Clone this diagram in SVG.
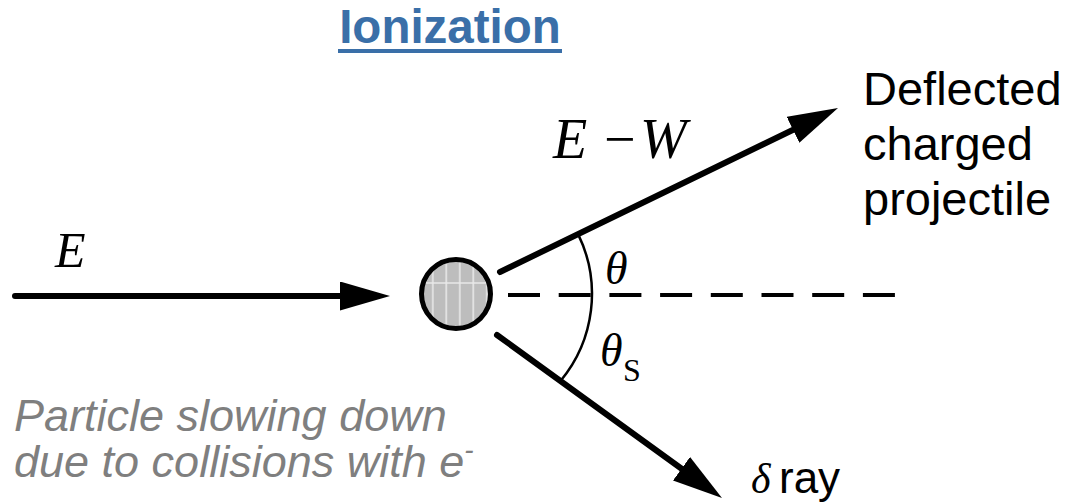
<svg xmlns="http://www.w3.org/2000/svg" width="1071" height="504" viewBox="0 0 1071 504">
  <style>
    .arrow { stroke: #000; stroke-width: 6; stroke-linecap: round; fill: none; }
    .math { font-family: "Liberation Serif", "DejaVu Serif", serif; font-style: italic; fill: #000; }
    .sans { font-family: "Liberation Sans", Arial, sans-serif; fill: #000; }
    .note { font-family: "Liberation Sans", Arial, sans-serif; font-style: italic; fill: #7f7f7f; font-size: 45px; }
  </style>
  <defs>
    <marker id="head" markerUnits="userSpaceOnUse" markerWidth="52" markerHeight="30" refX="30" refY="14.5" orient="auto">
      <path d="M0,0 L50,14.5 L0,29 z" fill="#000"/>
    </marker>
    <pattern id="hatch" patternUnits="userSpaceOnUse" x="426" y="0" width="13.5" height="504">
      <rect width="13.5" height="504" fill="#bdbdbd"/>
      <rect x="6" width="1.6" height="504" fill="#e8e8e8"/>
    </pattern>
  </defs>
  <rect width="1071" height="504" fill="#fff"/>

  <g id="title">
    <text x="450" y="43" text-anchor="middle" font-family="Liberation Sans, Arial, sans-serif" font-weight="bold" font-size="47.5" fill="#3a6fa8">Ionization</text>
    <line x1="338" y1="51" x2="562" y2="51" stroke="#3a6fa8" stroke-width="4"/>
  </g>

  <g id="connectors">
    <line class="arrow" x1="15" y1="296" x2="370" y2="296" marker-end="url(#head)"/>
    <line class="arrow" x1="500" y1="272" x2="820" y2="116.7" marker-end="url(#head)"/>
    <line class="arrow" x1="497" y1="335" x2="705.8" y2="486.3" marker-end="url(#head)"/>
    <line id="axis" x1="508" y1="295" x2="895" y2="295" stroke="#000" stroke-width="4" stroke-dasharray="32 18.7"/>
    <path id="angle-arc" d="M578.3,234.6 A136,136 0 0 1 560.5,381" fill="none" stroke="#000" stroke-width="2.5"/>
  </g>

  <g id="target">
    <circle cx="456" cy="294" r="34.5" fill="url(#hatch)" stroke="none"/>
    <line x1="424" y1="283" x2="488" y2="283" stroke="#e8e8e8" stroke-width="1.6"/>
    <circle cx="456" cy="294" r="34.5" fill="none" stroke="#000" stroke-width="5"/>
  </g>

  <g id="label-E">
    <text class="math" x="55" y="267" font-size="50">E</text>
  </g>
  <g id="label-EW">
    <text class="math" x="553" y="158" font-size="56">E</text>
    <text x="604" y="158" font-size="56" font-family="Liberation Serif, DejaVu Serif, serif" fill="#000">−</text>
    <text class="math" x="640" y="158" font-size="56">W</text>
  </g>
  <g id="label-theta">
    <text class="math" x="605" y="284" font-size="46">θ</text>
  </g>
  <g id="label-theta-s">
    <text class="math" x="600" y="366" font-size="46">θ</text>
    <text x="623" y="381" font-size="32" font-family="Liberation Serif, DejaVu Serif, serif" fill="#000">S</text>
  </g>

  <g id="deflected">
    <text class="sans" font-size="47">
      <tspan x="863" y="105">Deflected</tspan>
      <tspan x="863" y="160">charged</tspan>
      <tspan x="863" y="215">projectile</tspan>
    </text>
  </g>

  <g id="delta-ray">
    <text class="math" x="751" y="493" font-size="42">δ</text>
    <text class="sans" x="779" y="493" font-size="44">ray</text>
  </g>

  <g id="note">
    <text class="note" x="14" y="431">Particle slowing down</text>
    <text class="note" x="14" y="477">due to collisions with e<tspan dy="-18" font-size="28">-</tspan></text>
  </g>
</svg>
